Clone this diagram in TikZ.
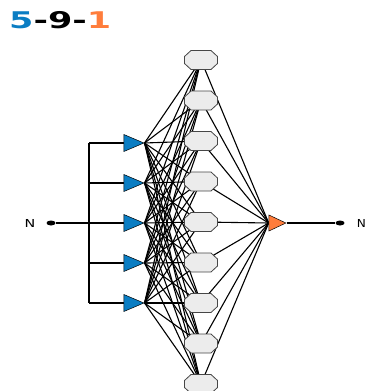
\documentclass[tikz,border=0pt]{standalone}
\usepackage{fontspec}
\newfontfamily\dejavu{DejaVu Sans}
\usetikzlibrary{shapes.geometric,backgrounds}
\definecolor{inblue}{RGB}{10,125,195}
\definecolor{outorange}{RGB}{255,125,60}
\definecolor{hidfill}{RGB}{236,236,236}
\definecolor{hidline}{RGB}{70,70,70}
\begin{document}
\begin{tikzpicture}[x=1pt,y=-1pt,
  wire/.style={line width=1.1pt,black},
  intri/.style={isosceles triangle,isosceles triangle stretches,shape border rotate=0,
    minimum width=17pt,minimum height=20pt,inner sep=0pt,fill=inblue,draw=black,line width=0.5pt},
  outtri/.style={isosceles triangle,isosceles triangle stretches,shape border rotate=0,
    minimum width=16pt,minimum height=17pt,inner sep=0pt,fill=outorange,draw=black,line width=0.5pt},
  hid/.style={ellipse,minimum width=32pt,minimum height=18pt,inner sep=0pt},
  octo/.style={fill=hidfill,draw=hidline,line width=0.8pt,line join=miter},
  port/.style={ellipse,fill=black,minimum width=9pt,minimum height=5pt,inner sep=0pt},
  lbl/.style={font=\dejavu\fontsize{11pt}{11pt}\selectfont,inner sep=0pt}]
\useasboundingbox (0,0) rectangle (366,391);
% title
\node[anchor=west,inner sep=0pt,font=\dejavu\bfseries\fontsize{23pt}{23pt}\selectfont] (title) at (9,20)
  {\scalebox{1.52}[1]{\textcolor{inblue}{5}-9-\textcolor{outorange}{1}}};
% inputs
\foreach \k/\y in {1/143,2/183,3/223,4/263,5/303}{
  \node[intri] (i\k) at (129.5,\y) {};
}
% hidden
\foreach \k in {1,...,9}{
  \pgfmathsetmacro\yy{60+(\k-1)*40.5}
  \node[hid] (h\k) at (201,\yy) {};
  \draw[octo,shift={(h\k)}] (-10,-9.5) -- (10,-9.5) -- (16.5,-3.5) -- (16.5,3.5) -- (10,9.5) -- (-10,9.5) -- (-16.5,3.5) -- (-16.5,-3.5) -- cycle;
}
% output
\node[outtri] (o) at (274,223) {};
% ports
\node[port] (pin) at (51,223) {};
\node[port] (pout) at (340,223) {};
\node[lbl] (nin) at (30,223) {\scalebox{1.3}[1]{N}};
\node[lbl,anchor=east] (nout) at (366,223) {\scalebox{1.1}[1]{N}};
\coordinate (bt) at (89,143);
\coordinate (bb) at (89,303);
\begin{scope}[on background layer]
  \foreach \a in {1,...,5}{
    \foreach \b in {1,...,9}{
      \draw[wire] (i\a.east) -- (h\b);
    }
  }
  \foreach \b in {1,...,9}{
    \draw[wire] (h\b) -- (o.west);
  }
  \draw[wire] (bt) -- (bb);
  \foreach \a in {1,2,4,5}{
    \draw[wire] (bt |- i\a) -- (i\a.west);
  }
  \draw[wire] (pin) -- (i3.west);
  \draw[wire] (o.east) -- (pout);
\end{scope}
\end{tikzpicture}
\end{document}
